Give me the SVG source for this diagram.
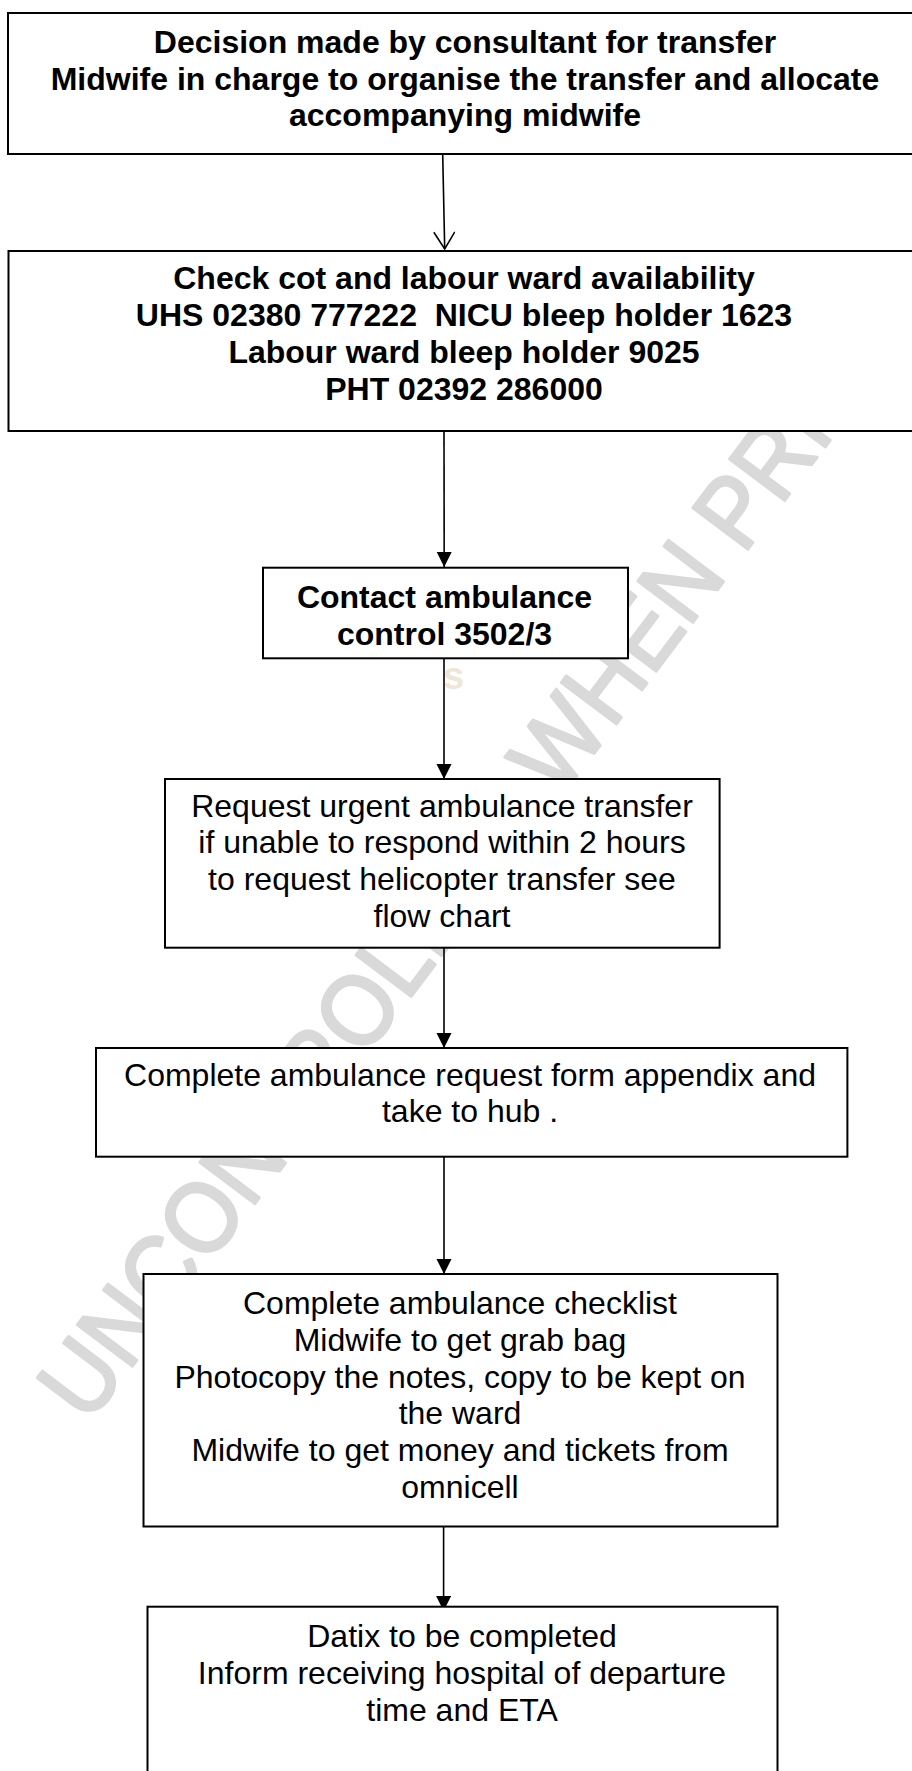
<svg xmlns="http://www.w3.org/2000/svg" width="912" height="1771" viewBox="0 0 912 1771">
<defs>
<style>
.box{fill:#fff;stroke:#000;stroke-width:2}
.t{font-family:"Liberation Sans",Arial,sans-serif;font-size:32px;text-anchor:middle;fill:#000}
.bold{font-weight:bold}
.conn{stroke:#000;stroke-width:1.6;fill:none}
.wm{font-family:"Liberation Sans",Arial,sans-serif;font-size:100px;fill:#d9d9d9;stroke:#d9d9d9;stroke-width:3;stroke-linejoin:round}
</style>
<clipPath id="wmclip"><rect x="0" y="252" width="912" height="1519"/></clipPath>
<marker id="tri" markerUnits="userSpaceOnUse" markerWidth="16" markerHeight="16" refX="15" refY="7.5" orient="auto">
<path d="M0,0 L15,7.5 L0,15 z" fill="#000"/>
</marker>
<marker id="vee" markerUnits="userSpaceOnUse" markerWidth="20" markerHeight="24" refX="18" refY="10.5" orient="auto">
<path d="M1,0 L18,10.5 L1,21" fill="none" stroke="#000" stroke-width="1.6"/>
</marker>
</defs>
<rect width="912" height="1771" fill="#fff"/>
<g id="watermark">
<g clip-path="url(#wmclip)">
<text class="wm" transform="translate(88,1425) rotate(-53) scale(0.916,1)">UNCONTROLLED WHEN PRINTED</text>
</g>
<text x="443" y="689" font-family="Liberation Sans,Arial,sans-serif" font-size="38" font-weight="bold" fill="#efe6d8">s</text>
</g>
<g id="connectors">
<line class="conn" x1="442.7" y1="154" x2="444.7" y2="249" marker-end="url(#vee)"/>
<line class="conn" x1="444" y1="432" x2="444.2" y2="567" marker-end="url(#tri)"/>
<line class="conn" x1="444" y1="659" x2="444" y2="779" marker-end="url(#tri)"/>
<line class="conn" x1="444" y1="948" x2="444" y2="1048" marker-end="url(#tri)"/>
<line class="conn" x1="444" y1="1157" x2="444" y2="1274" marker-end="url(#tri)"/>
<line class="conn" x1="443.6" y1="1527" x2="443.6" y2="1611" marker-end="url(#tri)"/>
</g>
<g id="n1">
<rect class="box" x="8" y="13" width="914" height="141"/>
<text class="t bold" x="465" y="52.7">Decision made by consultant for transfer</text>
<text class="t bold" x="465" y="89.5">Midwife in charge to organise the transfer and allocate</text>
<text class="t bold" x="465" y="126.3">accompanying midwife</text>
</g>
<g id="n2">
<rect class="box" x="8.5" y="251" width="914" height="180"/>
<text class="t bold" x="464" y="288.5">Check cot and labour ward availability</text>
<text class="t bold" x="464" y="325.5" xml:space="preserve" style="white-space:pre">UHS 02380 777222  NICU bleep holder 1623</text>
<text class="t bold" x="464" y="362.5">Labour ward bleep holder 9025</text>
<text class="t bold" x="464" y="399.5">PHT 02392 286000</text>
</g>
<g id="n3">
<rect class="box" x="263" y="567.7" width="365" height="90.6"/>
<text class="t bold" x="444.5" y="608.3">Contact ambulance</text>
<text class="t bold" x="444.5" y="645">control 3502/3</text>
</g>
<g id="n4">
<rect class="box" x="165" y="779" width="554.6" height="168.7"/>
<text class="t" x="442" y="816.7">Request urgent ambulance transfer</text>
<text class="t" x="442" y="853.3">if unable to respond within 2 hours</text>
<text class="t" x="442" y="890">to request helicopter transfer see</text>
<text class="t" x="442" y="926.7">flow chart</text>
</g>
<g id="n5">
<rect class="box" x="96" y="1048" width="751.4" height="108.7"/>
<text class="t" x="470" y="1085.5">Complete ambulance request form appendix and</text>
<text class="t" x="470" y="1122.3">take to hub .</text>
</g>
<g id="n6">
<rect class="box" x="143.5" y="1274" width="634" height="252.5"/>
<text class="t" x="460" y="1314">Complete ambulance checklist</text>
<text class="t" x="460" y="1350.8">Midwife to get grab bag</text>
<text class="t" x="460" y="1387.6">Photocopy the notes, copy to be kept on</text>
<text class="t" x="460" y="1424.4">the ward</text>
<text class="t" x="460" y="1461.2">Midwife to get money and tickets from</text>
<text class="t" x="460" y="1498">omnicell</text>
</g>
<g id="n7">
<rect class="box" x="147.5" y="1606.7" width="630" height="200"/>
<text class="t" x="462" y="1647">Datix to be completed</text>
<text class="t" x="462" y="1683.8">Inform receiving hospital of departure</text>
<text class="t" x="462" y="1720.6">time and ETA</text>
</g>
</svg>
